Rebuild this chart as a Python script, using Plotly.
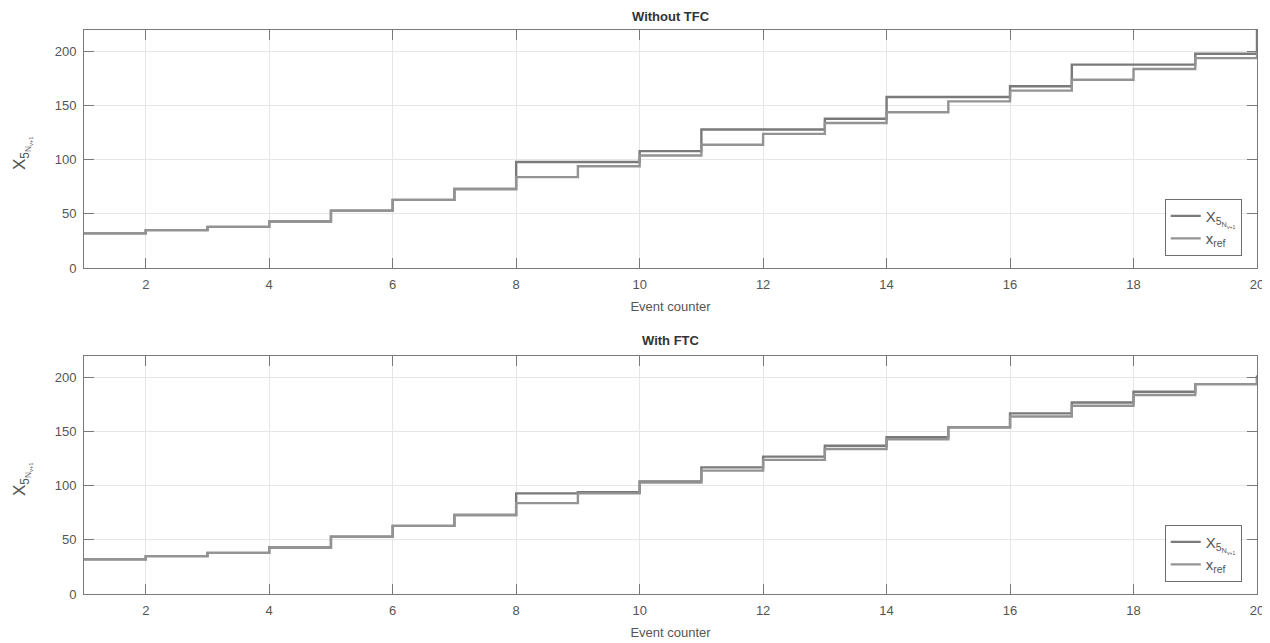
import plotly.graph_objects as go

event_counter = list(range(1, 21))

top_x5 = [32, 35, 38, 43, 53, 63, 73, 98, 98, 108, 128, 128, 138, 158, 158, 168, 188, 188, 198, 225]
top_xref = [32, 35, 38, 43, 53, 63, 73, 84, 94, 104, 114, 124, 134, 144, 154, 164, 174, 184, 194, 200]
bot_x5 = [32, 35, 38, 43, 53, 63, 73, 93, 94, 104, 117, 127, 137, 145, 154, 167, 177, 187, 194, 202]
bot_xref = [32, 35, 38, 43, 53, 63, 73, 84, 93, 103, 114, 124, 134, 143, 154, 164, 174, 184, 194, 200]

x_ticks = [2, 4, 6, 8, 10, 12, 14, 16, 18, 20]
y_ticks = [0, 50, 100, 150, 200]

lbl_x5 = "X<sub>5<sub>N<sub>v+1</sub></sub></sub>"
lbl_ref = "x<sub>ref</sub>"

C_X5 = "#7a7a7a"
C_REF = "#939393"
FONT = "Liberation Sans, Arial, sans-serif"
TXT = "#555555"
AX = "#7a7a7a"

fig = go.Figure()
fig.add_trace(go.Scatter(x=event_counter, y=top_x5, mode="lines", line=dict(shape="hv", color=C_X5, width=2.4),
                         name=lbl_x5, xaxis="x", yaxis="y", legend="legend"))
fig.add_trace(go.Scatter(x=event_counter, y=top_xref, mode="lines", line=dict(shape="hv", color=C_REF, width=2.4),
                         name=lbl_ref, xaxis="x", yaxis="y", legend="legend"))
fig.add_trace(go.Scatter(x=event_counter, y=bot_x5, mode="lines", line=dict(shape="hv", color=C_X5, width=2.4),
                         name=lbl_x5, xaxis="x2", yaxis="y2", legend="legend2"))
fig.add_trace(go.Scatter(x=event_counter, y=bot_xref, mode="lines", line=dict(shape="hv", color=C_REF, width=2.4),
                         name=lbl_ref, xaxis="x2", yaxis="y2", legend="legend2"))

def xax(anchor):
    return dict(range=[1, 20], tickvals=x_ticks, ticks="inside", ticklen=10, tickcolor=AX,
                showline=True, linecolor=AX, linewidth=1, mirror="allticks",
                showgrid=True, gridcolor="#e6e6e6", zeroline=False, anchor=anchor,
                automargin=False, ticklabelstandoff=4,
                tickfont=dict(family=FONT, size=13, color=TXT),
                title=dict(text="Event counter", font=dict(family=FONT, size=13, color=TXT), standoff=11))

def yax(domain, anchor):
    return dict(range=[0, 220], tickvals=y_ticks, ticks="inside", ticklen=10, tickcolor=AX,
                showline=True, linecolor=AX, linewidth=1, mirror="allticks",
                showgrid=True, gridcolor="#e6e6e6", zeroline=False, domain=domain, anchor=anchor,
                automargin=False, ticklabelstandoff=4,
                tickfont=dict(family=FONT, size=13, color=TXT))

legend_style = dict(bgcolor="white", bordercolor="#6e6e6e", borderwidth=1,
                    font=dict(family=FONT, size=15, color=TXT), xanchor="right", yanchor="bottom",
                    tracegroupgap=0, itemwidth=30)

top_dom = [0.578, 1.0]
bot_dom = [0.0, 0.422]

fig.update_layout(
    width=1262, height=635,
    margin=dict(l=76, r=13, t=22, b=49),
    paper_bgcolor="white", plot_bgcolor="white",
    xaxis=xax("y"), yaxis=yax(top_dom, "x"),
    xaxis2=xax("y2"), yaxis2=yax(bot_dom, "x2"),
    legend=dict(x=0.987, y=0.6, **legend_style),
    legend2=dict(x=0.987, y=0.022, **legend_style),
    showlegend=True,
    annotations=[
        dict(text="<b>Without TFC</b>", x=0.5, y=top_dom[1], xref="paper", yref="paper", xanchor="center",
             yanchor="bottom", yshift=4, showarrow=False, font=dict(family=FONT, size=13, color="#333333")),
        dict(text="<b>With FTC</b>", x=0.5, y=bot_dom[1], xref="paper", yref="paper", xanchor="center",
             yanchor="bottom", yshift=6, showarrow=False, font=dict(family=FONT, size=13, color="#333333")),
        dict(text=lbl_x5, x=0, y=(top_dom[0] + top_dom[1]) / 2, xref="paper", yref="paper",
             xanchor="center", yanchor="middle", xshift=-62, yshift=-4, textangle=-90, showarrow=False,
             font=dict(family=FONT, size=17, color=TXT)),
        dict(text=lbl_x5, x=0, y=(bot_dom[0] + bot_dom[1]) / 2, xref="paper", yref="paper",
             xanchor="center", yanchor="middle", xshift=-62, yshift=-4, textangle=-90, showarrow=False,
             font=dict(family=FONT, size=17, color=TXT)),
    ],
)

fig.write_html("out.html")
